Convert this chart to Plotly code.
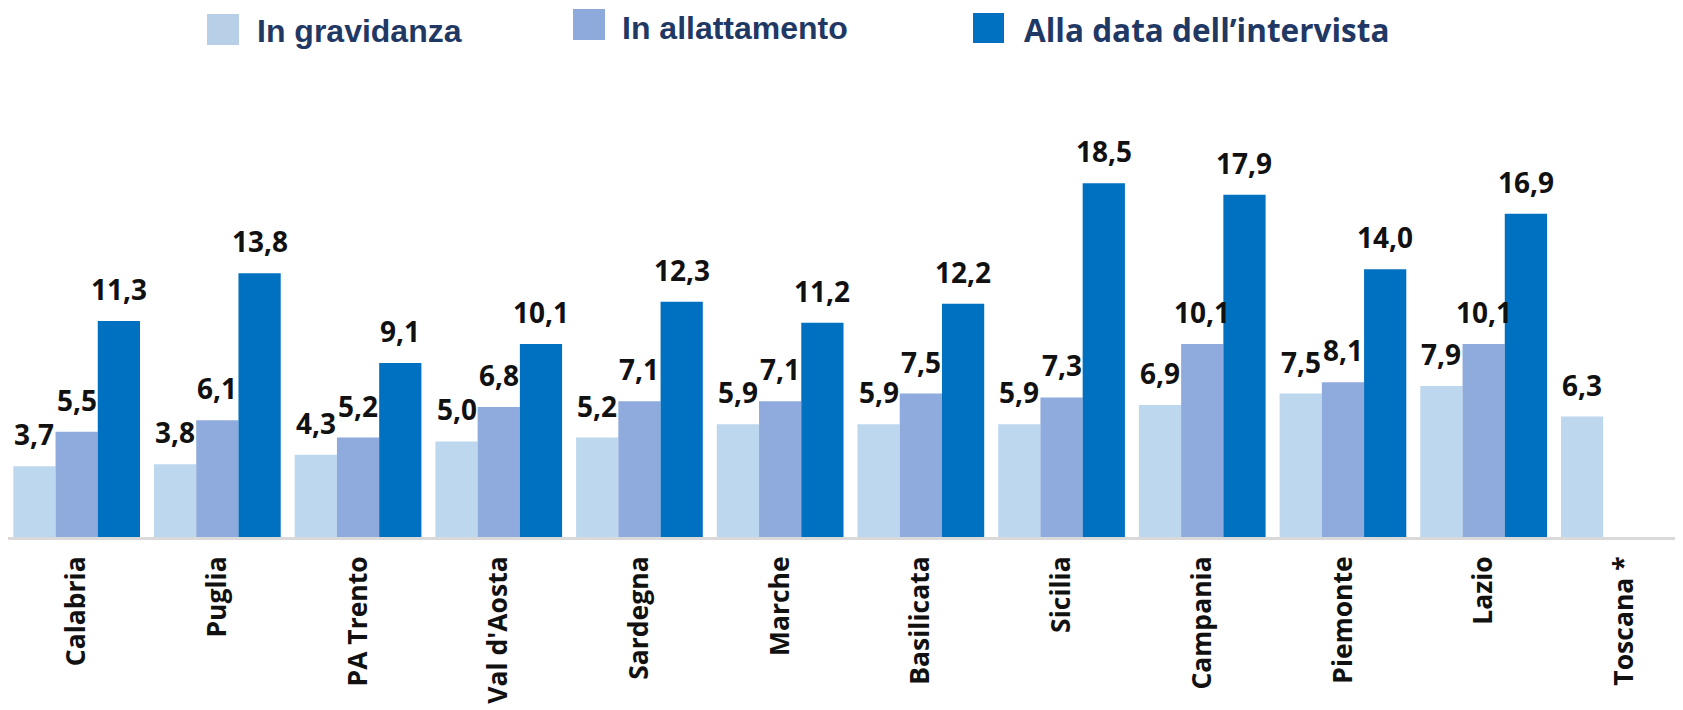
import plotly.graph_objects as go

# ---- data ----
regions = ["Calabria", "Puglia", "PA Trento", "Val d'Aosta", "Sardegna", "Marche",
           "Basilicata", "Sicilia", "Campania", "Piemonte", "Lazio", "Toscana *"]
gravidanza = [3.7, 3.8, 4.3, 5.0, 5.2, 5.9, 5.9, 5.9, 6.9, 7.5, 7.9, 6.3]
allattamento = [5.5, 6.1, 5.2, 6.8, 7.1, 7.1, 7.5, 7.3, 10.1, 8.1, 10.1, None]
intervista = [11.3, 13.8, 9.1, 10.1, 12.3, 11.2, 12.2, 18.5, 17.9, 14.0, 16.9, None]
series_names = ["In gravidanza", "In allattamento", "Alla data dell\u2019intervista"]
series_values = [gravidanza, allattamento, intervista]
series_colors = ["#BDD7EE", "#8FAADC", "#0070C0"]

# ---- layout geometry (pixels) ----
OFF = 8  # page body margin of the html output
W, H = 1683 - OFF, 710 - OFF
ML, MR = 0, 0
MT = 60 - OFF
MB = H - (537 - OFF)
plot_w = W - ML - MR
plot_h = H - MT - MB
px_per_cat = 140.7
px_per_unit = 19.12
bar_px = px_per_cat * (1 - 0.0995) / 3
x_start = -0.5 + (OFF - 6.3) / px_per_cat


def fmt(v):
    return f"{v:.1f}".replace(".", ",")


def paper_x(px):
    return (px - OFF - ML) / plot_w


def paper_y(py):
    return (H - MB - (py - OFF)) / plot_h


fig = go.Figure()
for name, vals, col in zip(series_names, series_values, series_colors):
    fig.add_trace(go.Bar(
        x=regions, y=vals, name=name, marker=dict(color=col, line=dict(width=0)),
        showlegend=False,
    ))

annotations = []
for k, vals in enumerate(series_values):
    for reg, v in zip(regions, vals):
        if v is None:
            continue
        annotations.append(dict(
            x=reg, y=v, xref="x", yref="y", text=fmt(v), showarrow=False,
            xanchor="center", yanchor="bottom", xshift=(k - 1) * bar_px, yshift=11,
            font=dict(family="Open Sans", size=28, color="#111111", weight="bold"),
        ))

# manual legend (swatches + labels), screen pixel positions
legend_boxes = [(207, 14, 239, 45), (573, 9, 605, 40), (973, 13, 1004, 43)]
legend_text = [(255, 31, "Liberation Sans", 32), (620, 28, "Liberation Sans", 32),
               (1022, 29.5, "Open Sans", 31.5)]
legend_swatch_colors = ["#B8CFE8", "#8EA9DB", "#0070C0"]
shapes = []
for (x0, y0, x1, y1), col in zip(legend_boxes, legend_swatch_colors):
    shapes.append(dict(type="rect", xref="paper", yref="paper",
                       x0=paper_x(x0), x1=paper_x(x1), y0=paper_y(y1), y1=paper_y(y0),
                       fillcolor=col, line=dict(width=0)))
for (tx, ty, fam, sz), name in zip(legend_text, series_names):
    annotations.append(dict(
        x=paper_x(tx), y=paper_y(ty), xref="paper", yref="paper", text=name,
        showarrow=False, xanchor="left", yanchor="middle",
        font=dict(family=fam, size=sz, color="#1F3864", weight="bold"),
    ))

fig.update_layout(
    width=W, height=H,
    margin=dict(l=ML, r=MR, t=MT, b=MB, pad=0, autoexpand=False),
    paper_bgcolor="white", plot_bgcolor="white",
    barmode="group", bargap=0.0995, bargroupgap=0,
    showlegend=False,
    annotations=annotations, shapes=shapes,
    xaxis=dict(
        range=[x_start, x_start + plot_w / px_per_cat],
        showline=True, linecolor="#D9D9D9", linewidth=2.5,
        showgrid=False, zeroline=False, ticks="", automargin=False,
        tickangle=-90, ticklabelstandoff=6,
        tickfont=dict(family="Open Sans", size=26.5, color="#111111", weight="bold"),
    ),
    yaxis=dict(
        range=[0, plot_h / px_per_unit], visible=False,
        showgrid=False, zeroline=False,
    ),
)

fig.write_html("out.html")
